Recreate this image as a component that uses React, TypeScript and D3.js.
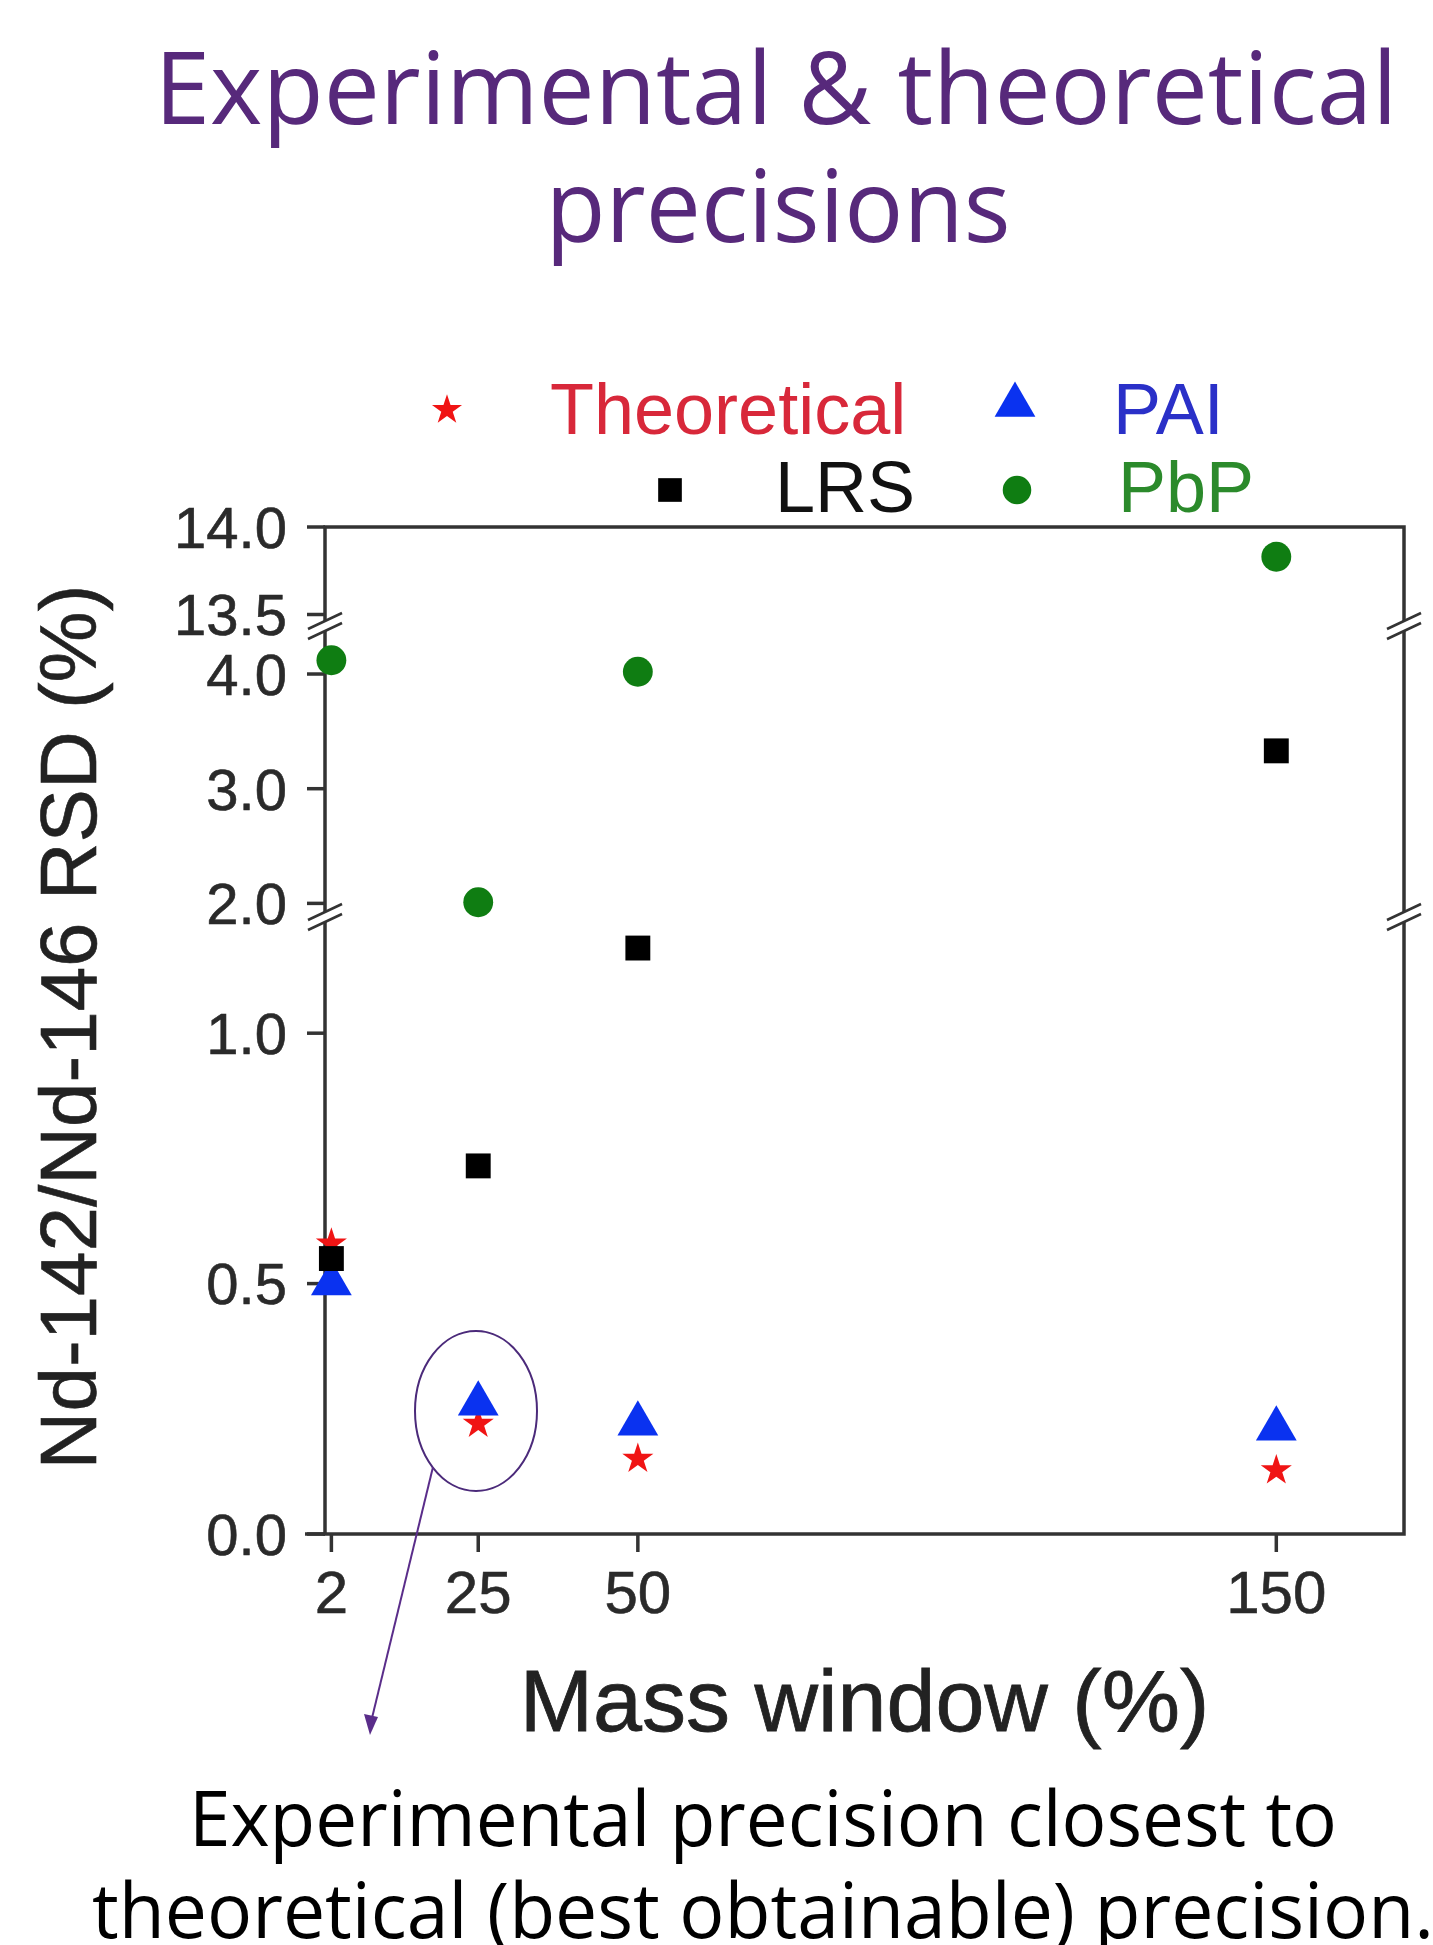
import React from 'react';
import * as d3 from 'd3';

// data
const massWindows = [2, 25, 50, 150];
const theoretical = [0.58, 0.22, 0.15, 0.127];
const pai = [0.5, 0.26, 0.22, 0.21];
const lrs = [0.55, 0.735, 1.17, 3.33];
const pbp = [4.12, 2.01, 4.02, 13.83];

const xTicks = [2, 25, 50, 150];
const yTicks = [0, 0.5, 1.0, 2.0, 3.0, 4.0, 13.5, 14.0];
// broken y axis: value segments [0,1.23] [1.89,4.41] [13.44,14]
const yBreakValues = [0, 1.23, 1.89, 4.41, 13.44, 14];

const titleLines = ['Experimental & theoretical', 'precisions'];
const noteLines = ['Experimental precision closest to', 'theoretical (best obtainable) precision.'];

const W = 1433, H = 1945;
const plot = { left: 325, right: 1404, top: 527, bottom: 1534 };

const x = d3.scaleLinear().domain([1, 170]).range([plot.left, plot.right]);
const y = d3.scaleLinear()
  .domain(yBreakValues)
  .range([plot.bottom, 918, 916, 627, 625, plot.top]);

const series = [
  { name: 'Theoretical', values: theoretical, shape: d3.symbolStar, size: 300, color: '#f01414', text: '#d8283a' },
  { name: 'PAI', values: pai, shape: d3.symbolTriangle, size: 720, color: '#0a32f0', text: '#2a30c8' },
  { name: 'LRS', values: lrs, shape: d3.symbolSquare, size: 620, color: '#000000', text: '#111111' },
  { name: 'PbP', values: pbp, shape: d3.symbolCircle, size: 700, color: '#0f7d12', text: '#2b8a2b' },
];

const legendPos = [
  { mx: 447, my: 410, tx: 550, ty: 434, size: 280 },
  { mx: 1015, my: 405, tx: 1113, ty: 434, size: 720 },
  { mx: 670, my: 490, tx: 775, ty: 512, size: 560 },
  { mx: 1017, my: 490, tx: 1118, ty: 512, size: 640 },
];

const axisColor = '#333';
const chartFont = '"Liberation Sans", Arial, sans-serif';
const textFont = '"Open Sans", "Noto Sans", sans-serif';

function BreakMark({ cx, cy }: { cx: number; cy: number }) {
  const dx = 17, dy = 8, gap = 5;
  return (
    <g>
      <polygon
        points={`${cx - dx},${cy + dy - gap} ${cx + dx},${cy - dy - gap} ${cx + dx},${cy - dy + gap} ${cx - dx},${cy + dy + gap}`}
        fill="#fff"
      />
      <line x1={cx - dx} y1={cy + dy - gap} x2={cx + dx} y2={cy - dy - gap} stroke={axisColor} strokeWidth={2.5} />
      <line x1={cx - dx} y1={cy + dy + gap} x2={cx + dx} y2={cy - dy + gap} stroke={axisColor} strokeWidth={2.5} />
    </g>
  );
}

export default function App() {
  const sym = (shape: d3.SymbolType, size: number) => d3.symbol().type(shape).size(size)() || '';
  const breakYs = [917, 626];

  return (
    <div style={{ position: 'absolute', left: 0, top: 0, background: '#fff' }}>
      <svg width={W} height={H} viewBox={`0 0 ${W} ${H}`} style={{ display: 'block' }}>
        <rect width={W} height={H} fill="#fff" />

        {/* title */}
        <text x={776} y={124} textAnchor="middle" fontFamily={textFont} fontSize={100} fill="#57297b"
          textLength={1243} lengthAdjust="spacingAndGlyphs">{titleLines[0]}</text>
        <text x={778} y={242} textAnchor="middle" fontFamily={textFont} fontSize={100} fill="#57297b"
          textLength={465} lengthAdjust="spacingAndGlyphs">{titleLines[1]}</text>

        {/* legend */}
        {series.map((s, i) => (
          <g key={s.name}>
            <path d={sym(s.shape, legendPos[i].size)} transform={`translate(${legendPos[i].mx},${legendPos[i].my})`} fill={s.color} />
            <text x={legendPos[i].tx} y={legendPos[i].ty} fontFamily={chartFont} fontSize={72} fill={s.text}>{s.name}</text>
          </g>
        ))}

        {/* frame */}
        <rect x={plot.left} y={plot.top} width={plot.right - plot.left} height={plot.bottom - plot.top}
          fill="none" stroke={axisColor} strokeWidth={3.5} />
        <line x1={plot.left - 20} x2={plot.left} y1={plot.bottom} y2={plot.bottom} stroke={axisColor} strokeWidth={3.5} />

        {/* y ticks */}
        {yTicks.map(t => (
          <g key={t}>
            <line x1={plot.left - 18} x2={plot.left} y1={y(t)} y2={y(t)} stroke={axisColor} strokeWidth={3.5} />
            <text x={287} y={y(t)} dy="0.36em" textAnchor="end" fontFamily={chartFont} fontSize={58} fill="#2a2a2a"
              stroke="#2a2a2a" strokeWidth={0.6}>
              {t.toFixed(1)}
            </text>
          </g>
        ))}

        {/* x ticks */}
        {xTicks.map(t => (
          <g key={t}>
            <line x1={x(t)} x2={x(t)} y1={plot.bottom} y2={plot.bottom + 18} stroke={axisColor} strokeWidth={3.5} />
            <text x={x(t)} y={1613} textAnchor="middle" fontFamily={chartFont} fontSize={60} fill="#2a2a2a"
              stroke="#2a2a2a" strokeWidth={0.6}>{t}</text>
          </g>
        ))}

        {/* axis breaks */}
        {breakYs.map(by => (
          <g key={by}>
            <BreakMark cx={plot.left} cy={by} />
            <BreakMark cx={plot.right} cy={by} />
          </g>
        ))}

        {/* points */}
        {series.map(s => (
          <g key={s.name}>
            {s.values.map((v, i) => (
              <path key={i} d={sym(s.shape, s.size)} transform={`translate(${x(massWindows[i])},${y(v)})`} fill={s.color} />
            ))}
          </g>
        ))}

        {/* axis titles */}
        <text x={(plot.left + plot.right) / 2} y={1731} textAnchor="middle" fontFamily={chartFont} fontSize={88}
          fill="#222" stroke="#222" strokeWidth={0.8}>Mass window (%)</text>
        <text transform="translate(96,1027) rotate(-90)" textAnchor="middle" fontFamily={chartFont} fontSize={80}
          fill="#222" stroke="#222" strokeWidth={0.6}>Nd-142/Nd-146 RSD (%)</text>

        {/* annotation */}
        <ellipse cx={476} cy={1411} rx={61} ry={80} fill="none" stroke="#4b2a7a" strokeWidth={2} />
        <line x1={433} y1={1467} x2={372} y2={1718} stroke="#5a2d8a" strokeWidth={2} />
        <polygon points="370,1735 364,1714 378,1717" fill="#5a2d8a" />

        {/* note */}
        <text x={763} y={1846} textAnchor="middle" fontFamily={textFont} fontSize={76} fill="#000"
          textLength={1148} lengthAdjust="spacingAndGlyphs">{noteLines[0]}</text>
        <text x={763} y={1938} textAnchor="middle" fontFamily={textFont} fontSize={76} fill="#000"
          textLength={1342} lengthAdjust="spacingAndGlyphs">{noteLines[1]}</text>
      </svg>
    </div>
  );
}
